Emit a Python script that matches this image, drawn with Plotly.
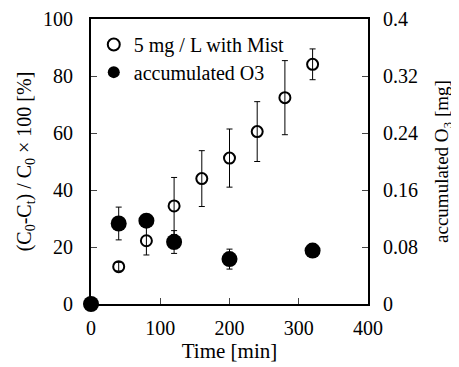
import plotly.graph_objects as go

time_mist = [0, 40, 80, 120, 160, 200, 240, 280, 320]
removal_mist = [0, 13.1, 22.2, 34.4, 44.0, 51.2, 60.5, 72.4, 84.1]
removal_err = [0, 1.5, 5.0, 10.0, 9.8, 10.2, 10.5, 13.0, 5.4]

time_o3 = [0, 40, 80, 120, 200, 320]
o3_mg = [0, 0.113, 0.117, 0.087, 0.063, 0.075]
o3_err = [0, 0.023, 0.0, 0.016, 0.014, 0.0]

x_ticks = [0, 100, 200, 300, 400]
y1_ticks = [0, 20, 40, 60, 80, 100]
y2_ticks = [0, 0.08, 0.16, 0.24, 0.32, 0.4]
y2_labels = ["0", "0.08", "0.16", "0.24", "0.32", "0.4"]

FONT = "Liberation Serif, Times New Roman, serif"
TICKFONT = dict(family=FONT, size=20, color="black")

fig = go.Figure()
fig.add_trace(go.Scatter(
    x=time_o3, y=o3_mg, mode="markers", name="accumulated O3",
    yaxis="y2", legend="legend2",
    marker=dict(symbol="circle", size=16, color="black"),
    error_y=dict(type="data", array=o3_err, color="black", thickness=1, width=3),
    cliponaxis=False,
))
fig.add_trace(go.Scatter(
    x=time_mist, y=removal_mist, mode="markers", name="5 mg / L with Mist",
    marker=dict(symbol="circle-open", size=11, color="black", line=dict(width=2, color="black")),
    error_y=dict(type="data", array=removal_err, color="black", thickness=1, width=3),
    cliponaxis=False,
))

fig.update_layout(
    width=451, height=359,
    margin=dict(l=83, r=91, t=11, b=63),
    paper_bgcolor="white", plot_bgcolor="white",
    font=dict(family=FONT, size=20, color="black"),
    xaxis=dict(range=[0, 400], tickvals=x_ticks, ticks="inside", ticklen=6, tickwidth=1,
               showline=True, linewidth=2, linecolor="black", mirror=True,
               showgrid=False, zeroline=False, automargin=False,
               tickfont=TICKFONT, ticklabelstandoff=5,
               title=dict(text="Time [min]", standoff=5, font=dict(family=FONT, size=21))),
    yaxis=dict(range=[0, 100], tickvals=y1_ticks, ticks="inside", ticklen=6, tickwidth=1,
               showline=True, linewidth=2, linecolor="black", mirror=True,
               showgrid=False, zeroline=False, automargin=False,
               tickfont=TICKFONT, ticklabelstandoff=12,
               title=dict(text="(C<sub>0</sub>-C<sub>t</sub>) / C<sub>0</sub> × 100 [%]",
                          standoff=6, font=dict(family=FONT, size=20))),
    yaxis2=dict(range=[0, 0.4], tickvals=y2_ticks, ticktext=y2_labels, overlaying="y", side="right",
                ticks="inside", ticklen=6, tickwidth=1,
                showline=True, linewidth=2, linecolor="black",
                showgrid=False, zeroline=False, automargin=False,
                tickfont=TICKFONT, ticklabelstandoff=9,
                title=dict(text="accumulated O<sub>3</sub> [mg]", standoff=18,
                           font=dict(family=FONT, size=19))),
    legend=dict(x=0.01, y=0.979, xanchor="left", yanchor="top", bgcolor="rgba(0,0,0,0)",
                font=dict(family=FONT, size=20, color="black"), itemwidth=30, itemsizing="constant"),
    legend2=dict(x=0.01, y=0.882, xanchor="left", yanchor="top", bgcolor="rgba(0,0,0,0)",
                 font=dict(family=FONT, size=20, color="black"), itemwidth=30, itemsizing="constant"),
    showlegend=True,
)

fig.write_html("out.html")
